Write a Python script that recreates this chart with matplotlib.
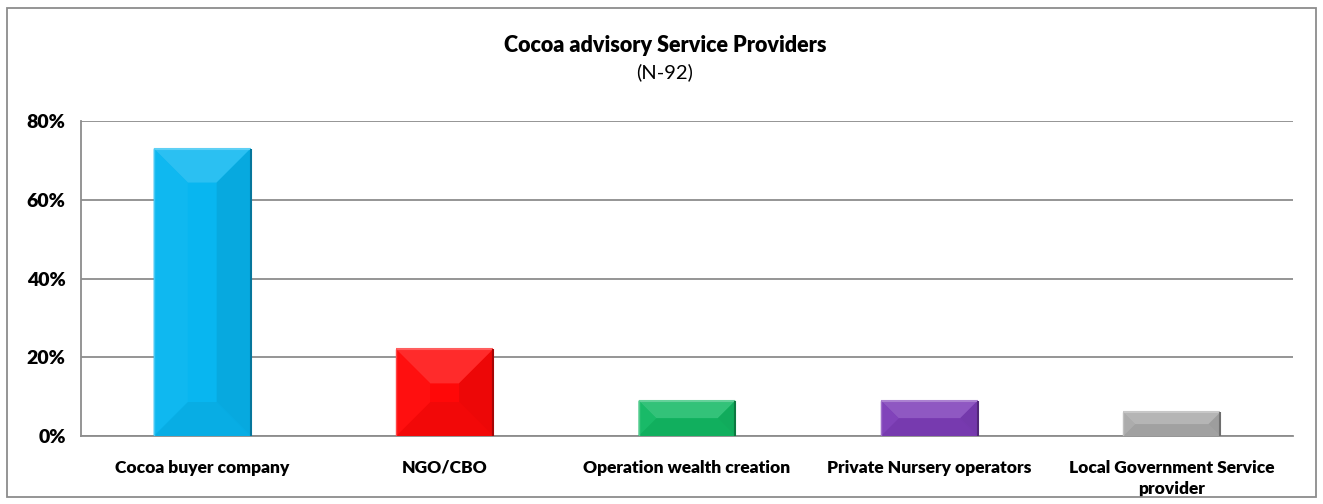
import numpy as np
import matplotlib
matplotlib.use("Agg")
import matplotlib.pyplot as plt
from matplotlib.patches import Polygon, Rectangle
from matplotlib.colors import to_rgb

plt.rcParams['font.family'] = ['Lato', 'DejaVu Sans']

categories = ['Cocoa buyer company', 'NGO/CBO', 'Operation wealth creation',
              'Private Nursery operators', 'Local Government Service\nprovider']
shares = [73, 22, 9, 9, 6]
colors = ['#08B6F0', '#FF0808', '#12B863', '#7D3DB8', '#A9A9A9']
yticks = [0, 20, 40, 60, 80]

W, H = 1323, 504
fig = plt.figure(figsize=(W / 100, H / 100), dpi=100)
# outer chart border
fig.patches.append(Rectangle((7 / W, 7 / H), 1309 / W, 489 / H, transform=fig.transFigure,
                             fill=False, edgecolor='#8c8c8c', linewidth=1.3))

ax = fig.add_axes([81 / W, (504 - 436) / H, 1212 / W, 315 / H])
ax.set_xlim(-0.5, 4.5)
ax.set_ylim(0, 80)

def shade(c, f):
    r = np.array(to_rgb(c))
    if f > 0:
        return tuple(r + (1 - r) * f)
    return tuple(r * (1 + f))

xpp = 5 / 1212   # data units per pixel, x
ypp = 80 / 315   # data units per pixel, y
bw = 0.4
for i, (v, c) in enumerate(zip(shares, colors)):
    x0, x1 = i - bw / 2, i + bw / 2
    y0, y1 = 0, v
    hp = v / ypp
    wp = bw / xpp
    b = min(34, hp / 2, wp / 2)
    bx, by = b * xpp, b * ypp
    ax.add_patch(Rectangle((x0, y0), bw, v, facecolor=c, edgecolor='none', zorder=3))
    faces = [
        ([(x0, y1), (x1, y1), (x1 - bx, y1 - by), (x0 + bx, y1 - by)], 0.14),
        ([(x0, y0), (x1, y0), (x1 - bx, y0 + by), (x0 + bx, y0 + by)], -0.05),
        ([(x0, y0), (x0, y1), (x0 + bx, y1 - by), (x0 + bx, y0 + by)], 0.03),
        ([(x1, y0), (x1, y1), (x1 - bx, y1 - by), (x1 - bx, y0 + by)], -0.07),
    ]
    for pts, f in faces:
        ax.add_patch(Polygon(pts, closed=True, facecolor=shade(c, f), edgecolor='none', zorder=3))
    # thin light rim along the top, darker along the right
    ax.plot([x0, x1], [y1, y1], color=shade(c, 0.35), linewidth=1.5, zorder=4,
            solid_capstyle='butt')
    ax.plot([x1, x1], [y0, y1], color=shade(c, -0.35), linewidth=1.5, zorder=4,
            solid_capstyle='butt')
    ax.plot([x0, x0], [y0, y1], color=shade(c, 0.25), linewidth=1.0, zorder=4,
            solid_capstyle='butt')

ax.set_yticks(yticks)
ax.set_yticklabels([f'{t}%' for t in yticks], fontsize=14, fontweight='heavy')
ax.set_xticks(range(len(categories)))
ax.set_xticklabels(categories, fontsize=12.5, fontweight='heavy', linespacing=1.45)
ax.tick_params(axis='y', length=0, pad=11)
ax.tick_params(axis='x', length=0, pad=17)
ax.yaxis.grid(True, color='#8c8c8c', linewidth=1.3, zorder=0)
ax.set_axisbelow(True)
for s in ['top', 'right']:
    ax.spines[s].set_visible(False)
for s in ['left', 'bottom']:
    ax.spines[s].set_color('#8c8c8c')
    ax.spines[s].set_linewidth(1.3)

fig.text(665 / W, 1 - 46 / H, 'Cocoa advisory Service Providers', ha='center', va='center',
         fontsize=15.5, fontweight='heavy')
fig.text(665 / W, 1 - 72 / H, '(N-92)', ha='center', va='center', fontsize=14.5)

fig.savefig('out.png', dpi=100)
